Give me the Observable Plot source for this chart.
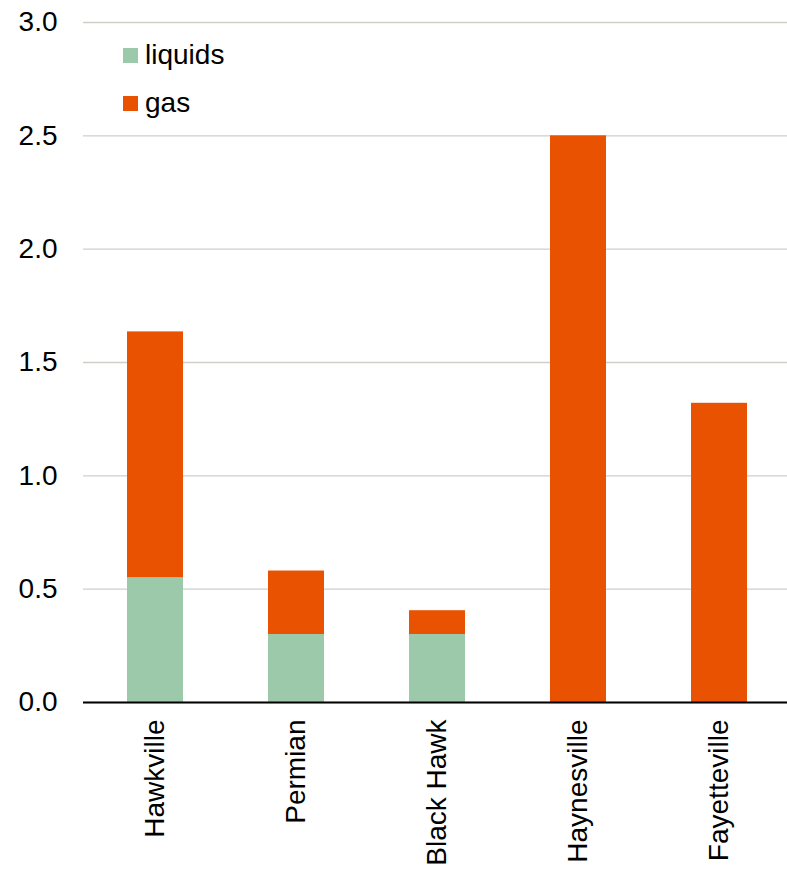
<!DOCTYPE html>
<html>
<head>
<meta charset="utf-8">
<script src="https://cdn.jsdelivr.net/npm/d3@7"></script>
<script src="https://cdn.jsdelivr.net/npm/@observablehq/plot@0.6"></script>
<style>
  html, body { margin: 0; padding: 0; background: #fff; }
  #wrap { position: relative; width: 787px; height: 869px; font-family: "Liberation Sans", Arial, sans-serif; }
  #legend { position: absolute; left: 123px; top: 31px; font-size: 28px; color: #000; line-height: 1; }
  .item { display: flex; align-items: center; height: 48px; }
  .sw { width: 15px; height: 15px; margin-right: 7px; flex: none; }
</style>
</head>
<body>
<div id="wrap"></div>
<script>
const plays = ["Hawkville", "Permian", "Black Hawk", "Haynesville", "Fayetteville"];
const series = ["liquids", "gas"];
const liquids = [0.55, 0.30, 0.30, 0, 0];
const gas = [1.085, 0.28, 0.105, 2.50, 1.32];
const colors = ["#9BC9AA", "#E85200"];
const yTicks = [0, 0.5, 1.0, 1.5, 2.0, 2.5, 3.0];

const rows = [];
plays.forEach((p, i) => {
  rows.push({play: p, series: "liquids", value: liquids[i]});
  rows.push({play: p, series: "gas", value: gas[i]});
});

const chart = Plot.plot({
  width: 787,
  height: 869,
  marginTop: 22,
  marginBottom: 167,
  marginLeft: 83,
  marginRight: 0,
  style: {fontFamily: "'Liberation Sans', Arial, sans-serif", fontSize: "28px", color: "#000", background: "#fff", overflow: "hidden"},
  x: {domain: plays, range: [83, 792], paddingInner: 0.6, paddingOuter: 0.3, label: null},
  y: {domain: [0, 3], label: null},
  color: {domain: series, range: colors},
  marks: [
    Plot.gridY(yTicks, {stroke: "#cfcfc7", strokeOpacity: 1, strokeWidth: 1.3}),
    Plot.barY(rows, {x: "play", y: "value", fill: "series", order: series}),
    Plot.ruleY([0], {stroke: "#000", strokeWidth: 2}),
    Plot.axisY(yTicks, {tickSize: 0, tickPadding: 26, tickFormat: d3.format(".1f"), label: null, fontSize: 28}),
    Plot.axisX({tickSize: 0, tickPadding: 17, tickRotate: -90, label: null, fontSize: 28})
  ]
});

const wrap = document.getElementById("wrap");
wrap.appendChild(chart);

const legend = document.createElement("div");
legend.id = "legend";
series.forEach((s, i) => {
  const item = document.createElement("div");
  item.className = "item";
  const sw = document.createElement("span");
  sw.className = "sw";
  sw.style.background = colors[i];
  const t = document.createElement("span");
  t.textContent = s;
  item.appendChild(sw);
  item.appendChild(t);
  legend.appendChild(item);
});
wrap.appendChild(legend);
</script>
</body>
</html>
